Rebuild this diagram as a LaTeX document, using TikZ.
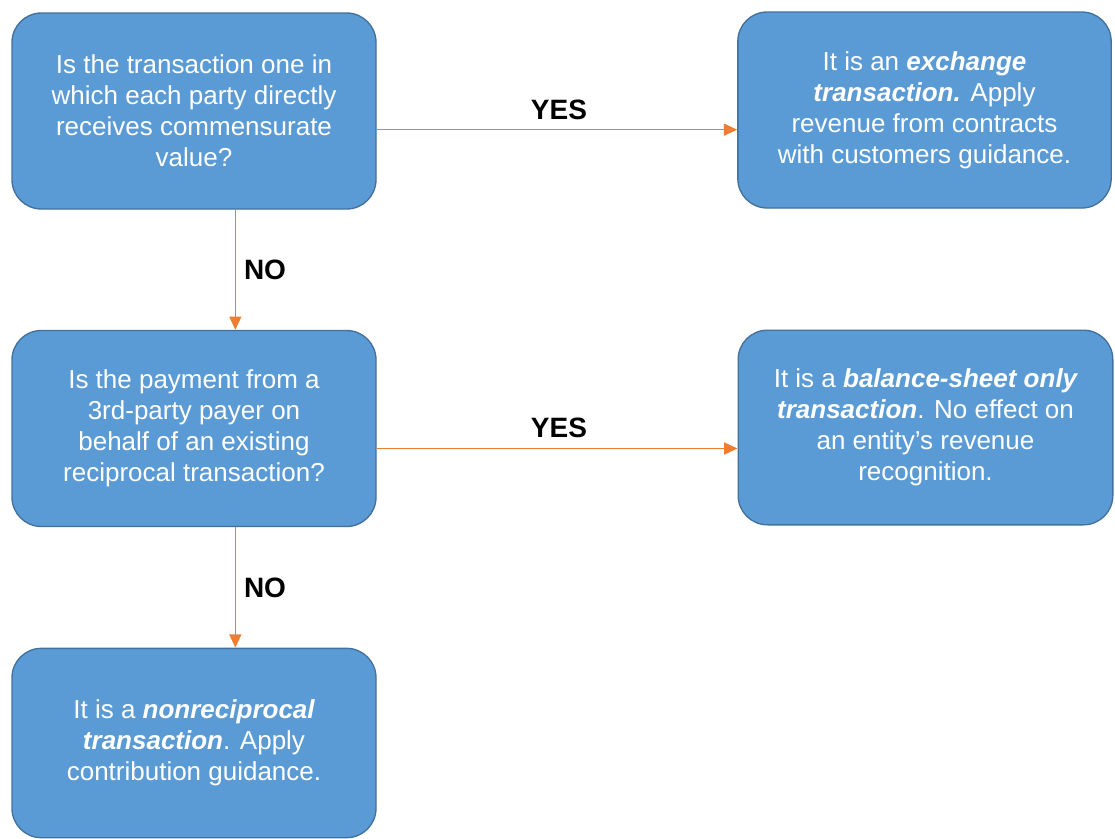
\documentclass[tikz,border=0pt]{standalone}
\usepackage{fontspec}
\setmainfont{Liberation Sans}
\usetikzlibrary{arrows.meta}
\definecolor{boxblue}{HTML}{5B9BD5}
\definecolor{boxline}{HTML}{41719C}
\definecolor{flowline}{HTML}{ED7D31}
\newcommand{\kind}[1]{{\bfseries\itshape #1}}
\begin{document}
\begin{tikzpicture}
		[x=0.75pt,y=-0.75pt,
		box/.style={rectangle,rounded corners=22pt,draw=boxline,line width=1pt,fill=boxblue,
			text=white,align=center,font=\fontsize{19.5}{23.3}\selectfont,
			minimum width=273pt,minimum height=147pt,inner sep=0pt},
		flow/.style={draw=flowline,line width=1.1pt,-{Triangle[length=10pt,width=9pt]}},
		plain/.style={draw=none,fill=none,font=\fontsize{21}{24}\selectfont\bfseries}
		]
		\useasboundingbox (0,0) rectangle (1115,839);
		\node[box] (q1) at (194,111){Is the transaction one in\\which each party directly\\receives commensurate\\value?};
		\node[box,minimum width=280pt] (r1) at (924.5,110){It is an \kind{exchange}\\\kind{transaction.} Apply\\revenue from contracts\\with customers guidance.};
		\node[box] (q2) at (194,428.5){Is the payment from a\\3rd-party payer on\\behalf of an existing\\reciprocal transaction?};
		\node[box,minimum width=281pt,minimum height=146pt] (r2) at (925.5,427.5){It is a \kind{balance-sheet only}\\\kind{transaction}. No effect on\\an entity's revenue\\recognition.};
		\node[box,minimum height=142pt] (r3) at (194,743){It is a \kind{nonreciprocal}\\\kind{transaction}. Apply\\contribution guidance.};

		\coordinate (a1) at ([yshift=-14pt]q1.east);
		\coordinate (a2) at ([yshift=-15pt]q2.east);
		\coordinate (d1) at ([xshift=31pt]q1.south);
		\coordinate (d2) at ([xshift=31pt]q2.south);

		\draw[flow] (a1) -- (a1 -| r1.west);
		\draw[flow] (a2) -- (a2 -| r2.west);
		\draw[flow] (d1) -- (d1 |- q2.north);
		\draw[flow] (d2) -- (d2 |- r3.north);

\node[plain] (yes1) at (559,110){YES};
\node[plain] (yes2) at (559,428){YES};
\node[plain] (no1) at (265,270){NO};
\node[plain] (no2) at (265,588){NO};
	\end{tikzpicture}
\end{document}
